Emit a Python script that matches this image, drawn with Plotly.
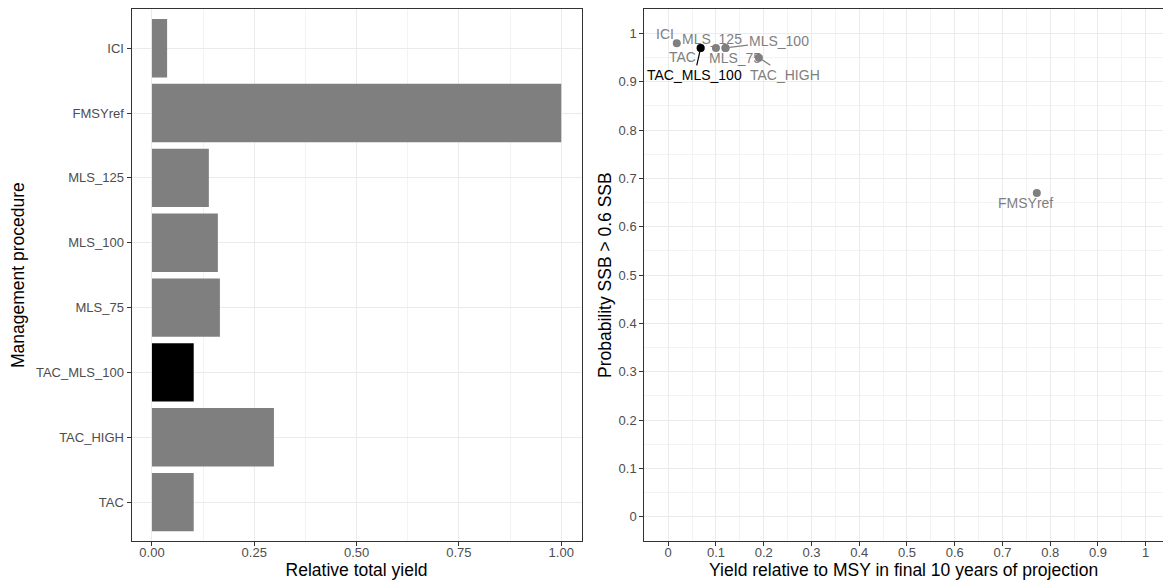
import plotly.graph_objects as go
from plotly.subplots import make_subplots

# ---- data ----
procedures = ["TAC", "TAC_HIGH", "TAC_MLS_100", "MLS_75", "MLS_100", "MLS_125", "FMSYref", "ICI"]
relative_total_yield = [0.102, 0.298, 0.102, 0.166, 0.161, 0.139, 1.0, 0.037]
yield_rel_msy = [0.068, 0.19, 0.068, 0.12, 0.12, 0.10, 0.772, 0.018]
prob_ssb = [0.97, 0.95, 0.97, 0.97, 0.97, 0.97, 0.67, 0.98]
highlight = "TAC_MLS_100"

GREY = "#7F7F7F"
FONT = "Liberation Sans, Arial, sans-serif"
TICKC = "#4D4D4D"
LINEC = "#333333"
GRID = "#EBEBEB"
MINOR = "#F3F3F3"

fig = make_subplots(rows=1, cols=2)

bar_colors = ["black" if p == highlight else GREY for p in procedures]
fig.add_trace(go.Bar(x=relative_total_yield, y=procedures, orientation="h",
                     marker=dict(color=bar_colors, line=dict(width=0)),
                     width=0.9, showlegend=False), row=1, col=1)

# scatter: grey points then highlighted
gx = [x for x, p in zip(yield_rel_msy, procedures) if p != highlight]
gy = [y for y, p in zip(prob_ssb, procedures) if p != highlight]
hx = [x for x, p in zip(yield_rel_msy, procedures) if p == highlight]
hy = [y for y, p in zip(prob_ssb, procedures) if p == highlight]
fig.add_trace(go.Scatter(x=gx, y=gy, mode="markers", marker=dict(color=GREY, size=8),
                         showlegend=False, cliponaxis=False), row=1, col=2)
fig.add_trace(go.Scatter(x=hx, y=hy, mode="markers", marker=dict(color="black", size=8),
                         showlegend=False, cliponaxis=False), row=1, col=2)

# label placement (pixel offsets, repel-like)
label_style = {
    "ICI": dict(showarrow=False, xshift=-12, yshift=9),
    "MLS_125": dict(showarrow=False, xshift=-4, yshift=9),
    "MLS_100": dict(showarrow=True, ax=54, ay=-7),
    "TAC": dict(showarrow=False, xshift=-18, yshift=-9),
    "MLS_75": dict(showarrow=False, xshift=10, yshift=-10),
    "TAC_MLS_100": dict(showarrow=True, ax=-6, ay=27),
    "TAC_HIGH": dict(showarrow=True, ax=26, ay=17),
    "FMSYref": dict(showarrow=False, xshift=-11, yshift=-10),
}
for p, x, y in zip(procedures, yield_rel_msy, prob_ssb):
    col = "black" if p == highlight else GREY
    st = label_style[p]
    ann = dict(x=x, y=y, xref="x2", yref="y2", text=p,
               font=dict(family=FONT, size=14, color=col))
    if st["showarrow"]:
        ann.update(showarrow=True, ax=st["ax"], ay=st["ay"], axref="pixel", ayref="pixel",
                   arrowhead=0, arrowwidth=1.2, arrowcolor=col, standoff=4)
    else:
        ann.update(showarrow=False, xshift=st["xshift"], yshift=st["yshift"])
    fig.add_annotation(**ann)

W, H = 1163, 581
ydom = [1 - 541 / H, 1 - 9.3 / H]

common_tick = dict(ticks="outside", ticklen=4, tickcolor=LINEC, tickwidth=1,
                   tickfont=dict(family=FONT, size=13, color=TICKC),
                   showline=True, linecolor=LINEC, linewidth=1,
                   gridcolor=GRID, gridwidth=1, zeroline=False)

fig.update_xaxes(domain=[131.5 / W, 581.7 / W], range=[-0.05, 1.05], tickmode="linear",
                 tick0=0, dtick=0.25, tickformat=".2f", mirror=True, ticklabelstandoff=-5,
                 minor=dict(dtick=0.125, showgrid=True, gridcolor=MINOR, gridwidth=1, ticks=""),
                 title=dict(text="Relative total yield", standoff=2,
                            font=dict(family=FONT, size=17.5, color="black")),
                 **common_tick, row=1, col=1)
fig.update_yaxes(domain=ydom, type="category", categoryorder="array", categoryarray=procedures,
                 range=[-0.6, 7.6], mirror=True,
                 title=dict(text="Management procedure", standoff=6,
                            font=dict(family=FONT, size=17.5, color="black")),
                 **common_tick, row=1, col=1)

fig.update_xaxes(domain=[644.3 / W, 1.0], range=[-0.05, (W - 668.3) / 477.4], tickmode="linear",
                 tick0=0, dtick=0.1, mirror=True, ticklabelstandoff=-5,
                 minor=dict(dtick=0.05, showgrid=True, gridcolor=MINOR, gridwidth=1, ticks=""),
                 title=dict(text="Yield relative to MSY in final 10 years of projection", standoff=2,
                            font=dict(family=FONT, size=17.5, color="black")),
                 **common_tick, row=1, col=2)
fig.update_yaxes(domain=ydom, range=[-0.05, 1.05], tickmode="linear", tick0=0, dtick=0.1,
                 mirror=False,
                 minor=dict(dtick=0.05, showgrid=True, gridcolor=MINOR, gridwidth=1, ticks=""),
                 title=dict(text="Probability SSB > 0.6 SSB", standoff=2,
                            font=dict(family=FONT, size=17.5, color="black")),
                 **common_tick, row=1, col=2)

fig.update_layout(width=W, height=H, margin=dict(l=0, r=0, t=0, b=0),
                  paper_bgcolor="white", plot_bgcolor="white", bargap=0.1,
                  font=dict(family=FONT), showlegend=False)

fig.write_html("out.html")
